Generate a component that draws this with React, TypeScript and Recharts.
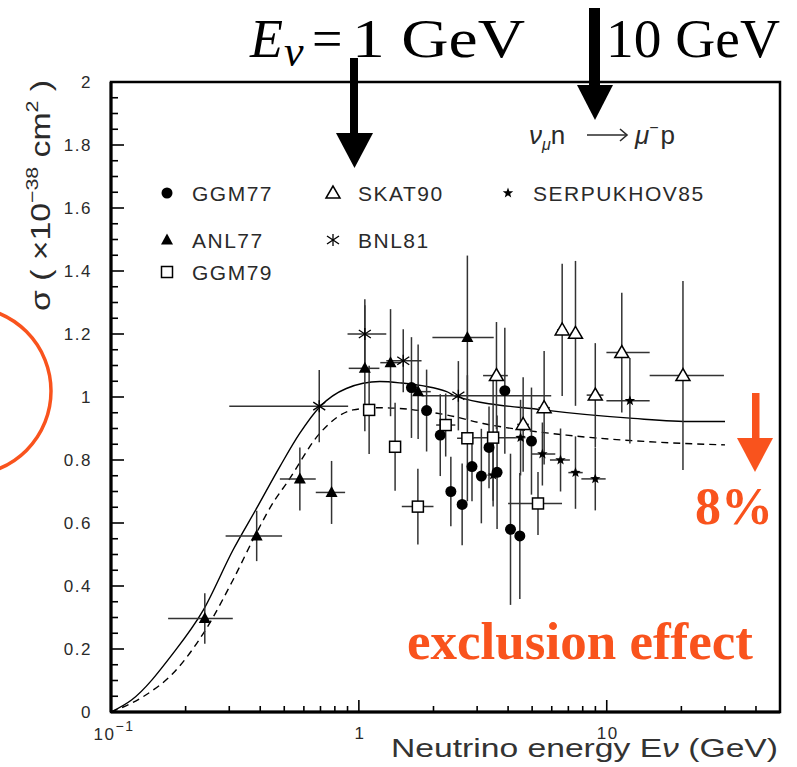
import React from 'react';
import { ComposedChart, Line, Scatter, XAxis, YAxis, ErrorBar, ReferenceArea } from 'recharts';

const ORANGE = '#f9531d';
const SANS = '"Liberation Sans", Arial, sans-serif';
const SERIF = '"Liberation Serif", "Times New Roman", serif';

// theory curves (E in GeV, sigma in 1e-38 cm2)
const solidE = [0.1, 0.121, 0.178, 0.236, 0.311, 0.387, 0.48, 0.578, 0.696, 0.89, 1.215, 1.46, 2.26, 2.48, 5.54, 12.8, 22.3, 30];
const solidS = [0, 0.038, 0.186, 0.324, 0.515, 0.647, 0.779, 0.885, 0.969, 1.027, 1.049, 1.045, 1.017, 1.001, 0.959, 0.932, 0.922, 0.922];
const dashedE = [0.1, 0.135, 0.178, 0.243, 0.311, 0.387, 0.458, 0.511, 0.696, 0.948, 1.215, 2.26, 3.17, 6.88, 14.9, 30];
const dashedS = [0, 0.049, 0.123, 0.266, 0.42, 0.57, 0.673, 0.726, 0.885, 0.959, 0.966, 0.943, 0.916, 0.879, 0.858, 0.848];

// ANL77
const anlE = [0.239, 0.387, 0.578, 0.776, 1.057, 1.342, 1.734, 2.74];
const anlS = [0.297, 0.559, 0.74, 0.697, 1.091, 1.109, 1.017, 1.189];
const anlLo = [0.17, 0.29, 0.48, 0.67, 0.91, 1.22, 1.6, 1.98];
const anlHi = [0.31, 0.49, 0.67, 0.88, 1.21, 1.48, 1.95, 3.5];
const anlErr = [0.08, 0.08, 0.1, 0.1, 0.2, 0.17, 0.15, 0.26];

// GGM77
const ggm77E = [1.63, 1.876, 2.13, 2.35, 2.61, 2.86, 3.12, 3.35, 3.61, 3.88, 4.09, 4.46, 4.97];
const ggm77S = [1.03, 0.957, 0.879, 0.7, 0.659, 0.779, 0.749, 0.84, 0.761, 1.02, 0.58, 0.559, 0.86];
const ggm77Err = [0.16, 0.13, 0.13, 0.11, 0.13, 0.11, 0.15, 0.13, 0.18, 0.2, 0.24, 0.2, 0.17];

// GGM79
const ggm79E = [1.1, 1.4, 1.73, 2.24, 2.74, 3.48, 5.28];
const ggm79S = [0.959, 0.842, 0.652, 0.911, 0.869, 0.871, 0.662];
const ggm79Lo = [1.05, 1.36, 1.49, 2.05, 2.49, 2.9, 4.0];
const ggm79Hi = [1.16, 1.45, 2.0, 2.45, 2.9, 4.3, 6.6];
const ggm79Err = [0.14, 0.14, 0.12, 0.1, 0.2, 0.2, 0.1];

// BNL81
const bnlE = [0.692, 1.057, 1.51, 2.52];
const bnlS = [0.971, 1.2, 1.115, 1.004];
const bnlLo = [0.3, 0.9, 1.29, 1.79];
const bnlHi = [0.905, 1.29, 1.79, 5.97];
const bnlErr = [0.115, 0.11, 0.1, 0.11];

// SKAT90
const skatE = [3.59, 4.6, 5.59, 6.61, 7.48, 8.99, 11.5, 20.3];
const skatS = [1.068, 0.913, 0.966, 1.213, 1.202, 1.006, 1.141, 1.068];
const skatLo = [3.17, 4.35, 5.3, 6.3, 7.15, 8.3, 9.97, 14.9];
const skatHi = [3.99, 4.85, 5.9, 6.9, 7.8, 9.7, 14.9, 29.7];
const skatErr = [0.17, 0.15, 0.18, 0.21, 0.23, 0.165, 0.19, 0.3];

// SERPUKHOV85
const serpE = [3.48, 4.49, 5.5, 6.51, 7.48, 8.99, 12.4];
const serpS = [0.752, 0.871, 0.819, 0.8, 0.76, 0.74, 0.988];
const serpLo = [3.3, 4.3, 4.97, 5.9, 7.0, 7.9, 9.97];
const serpHi = [3.65, 4.7, 6.2, 7.1, 8.0, 9.9, 14.9];
const serpErr = [0.1, 0.12, 0.1, 0.1, 0.115, 0.1, 0.136];

const xTicks = [0.1, 0.2, 0.3, 0.4, 0.5, 0.6, 0.7, 0.8, 0.9, 1, 2, 3, 4, 5, 6, 7, 8, 9, 10, 20, 30, 40];
const xMajor = [0.1, 1, 10];
const yMajor = [0, 0.2, 0.4, 0.6, 0.8, 1, 1.2, 1.4, 1.6, 1.8, 2];
const yTicks = Array.from({ length: 41 }, (_, i) => +(i * 0.05).toFixed(2));

const curve = (e: number[], s: number[]) => e.map((v, i) => ({ e: v, s: s[i] }));
const points = (e: number[], s: number[], lo: number[] | null, hi: number[] | null, err: number[]) =>
  e.map((v, i) => ({
    e: v,
    s: s[i],
    ex: lo && hi ? [v - lo[i], hi[i] - v] : [0, 0],
    ey: [err[i], err[i]],
  }));

type Kind = 'dot' | 'tri' | 'otri' | 'sq' | 'ast' | 'star';

const Marker = ({ cx, cy, kind }: { cx: number; cy: number; kind: Kind }) => {
  if (kind === 'dot') return <circle cx={cx} cy={cy} r={5.5} fill="#000" />;
  if (kind === 'tri')
    return <polygon points={`${cx},${cy - 6.5} ${cx - 6},${cy + 4.5} ${cx + 6},${cy + 4.5}`} fill="#000" />;
  if (kind === 'otri')
    return (
      <polygon
        points={`${cx},${cy - 7} ${cx - 7},${cy + 5} ${cx + 7},${cy + 5}`}
        fill="#fff"
        stroke="#000"
        strokeWidth={1.5}
      />
    );
  if (kind === 'sq')
    return <rect x={cx - 5.5} y={cy - 5.5} width={11} height={11} fill="#fff" stroke="#000" strokeWidth={1.5} />;
  if (kind === 'ast')
    return (
      <g stroke="#000" strokeWidth={1.3}>
        <line x1={cx} y1={cy - 6} x2={cx} y2={cy + 6} />
        <line x1={cx - 6} y1={cy - 4} x2={cx + 6} y2={cy + 4} />
        <line x1={cx - 6} y1={cy + 4} x2={cx + 6} y2={cy - 4} />
      </g>
    );
  const pts = Array.from({ length: 10 }, (_, i) => {
    const r = i % 2 === 0 ? 5.5 : 2.3;
    const a = -Math.PI / 2 + (i * Math.PI) / 5;
    return `${cx + r * Math.cos(a)},${cy + r * Math.sin(a)}`;
  }).join(' ');
  return <polygon points={pts} fill="#000" />;
};

const YTick = (props: any) => {
  const { x, y, payload } = props;
  const v = payload.value;
  const major = yMajor.some((m) => Math.abs(m - v) < 1e-6);
  return (
    <g>
      <line x1={x} x2={x + (major ? 13 : 7)} y1={y} y2={y} stroke="#000" strokeWidth={1.6} />
      {major && (
        <text x={x - 19} y={y + 6} textAnchor="end" fontFamily={SANS} fontSize={17} fill="#2a2a2a" letterSpacing={1.5}>
          {String(v)}
        </text>
      )}
    </g>
  );
};

const XTick = (props: any) => {
  const { x, y, payload } = props;
  const v = payload.value;
  const major = xMajor.includes(v);
  return (
    <g>
      <line x1={x} x2={x} y1={y} y2={y - (major ? 12 : 6)} stroke="#000" strokeWidth={1.6} />
      {major && v === 0.1 && (
        <text x={x + 3} y={y + 28} textAnchor="middle" fontFamily={SANS} fontSize={17} fill="#2a2a2a" letterSpacing={1.5}>
          10
          <tspan dy={-9} fontSize={14}>
            −1
          </tspan>
        </text>
      )}
      {major && v !== 0.1 && (
        <text x={x + 1} y={y + 27} textAnchor="middle" fontFamily={SANS} fontSize={17} fill="#2a2a2a" letterSpacing={1.5}>
          {String(v)}
        </text>
      )}
    </g>
  );
};

const series: { name: string; kind: Kind; data: any[] }[] = [
  { name: 'ANL77', kind: 'tri', data: points(anlE, anlS, anlLo, anlHi, anlErr) },
  { name: 'GGM77', kind: 'dot', data: points(ggm77E, ggm77S, null, null, ggm77Err) },
  { name: 'GGM79', kind: 'sq', data: points(ggm79E, ggm79S, ggm79Lo, ggm79Hi, ggm79Err) },
  { name: 'BNL81', kind: 'ast', data: points(bnlE, bnlS, bnlLo, bnlHi, bnlErr) },
  { name: 'SKAT90', kind: 'otri', data: points(skatE, skatS, skatLo, skatHi, skatErr) },
  { name: 'SERPUKHOV85', kind: 'star', data: points(serpE, serpS, serpLo, serpHi, serpErr) },
];

const legendItems: { name: string; kind: Kind; x: number; y: number }[] = [
  { name: 'GGM77', kind: 'dot', x: 167, y: 193 },
  { name: 'SKAT90', kind: 'otri', x: 333, y: 193 },
  { name: 'SERPUKHOV85', kind: 'star', x: 508, y: 193 },
  { name: 'ANL77', kind: 'tri', x: 167, y: 240 },
  { name: 'BNL81', kind: 'ast', x: 333, y: 240 },
  { name: 'GGM79', kind: 'sq', x: 167, y: 272 },
];

const Overlay = () => (
  <svg width={797} height={767} style={{ position: 'absolute', left: 0, top: 0, pointerEvents: 'none' }}>
    {/* legend */}
    {legendItems.map((it) => (
      <g key={it.name}>
        <Marker cx={it.x} cy={it.y} kind={it.kind} />
        <text x={it.x + 25} y={it.y + 8} fontFamily={SANS} fontSize={21} fill="#2a2a2a" letterSpacing={1.5}>
          {it.name}
        </text>
      </g>
    ))}
    {/* reaction */}
    <text x={529} y={144} fontFamily={SANS} fontSize={26} fill="#2a2a2a">
      <tspan fontStyle="italic">ν</tspan>
      <tspan fontSize={16} dy={6} fontStyle="italic">μ</tspan>
      <tspan dy={-6}>n</tspan>
    </text>
    <g stroke="#2a2a2a" strokeWidth={1.6} fill="none">
      <line x1={587} y1={135} x2={627} y2={135} />
      <polyline points="620,129 627,135 620,141" />
    </g>
    <text x={635} y={144} fontFamily={SANS} fontSize={26} fill="#2a2a2a">
      <tspan fontStyle="italic">μ</tspan>
      <tspan fontSize={16} dy={-11}>−</tspan>
      <tspan dy={11} dx={2}>p</tspan>
    </text>
    {/* axis titles */}
    <text
      transform="translate(50,311) rotate(-90)"
      fontFamily={SANS}
      fontSize={27}
      fill="#2a2a2a"
      textLength={231}
      lengthAdjust="spacingAndGlyphs"
    >
      σ ( ×10
      <tspan dy={-12} fontSize={17}>
        −38
      </tspan>
      <tspan dy={12}> cm</tspan>
      <tspan dy={-12} fontSize={17}>
        2
      </tspan>
      <tspan dy={12}> )</tspan>
    </text>
    <text
      x={391}
      y={757}
      fontFamily={SANS}
      fontSize={26}
      fill="#333"
      textLength={387}
      lengthAdjust="spacingAndGlyphs"
    >
      Neutrino energy E<tspan fontStyle="italic">ν</tspan> (GeV)
    </text>
    {/* top energy marks */}
    <text x={250} y={57} fontFamily={SERIF} fontSize={54} fontStyle="italic">
      E
    </text>
    <text x={284} y={66} fontFamily={SERIF} fontSize={44} fontStyle="italic">
      ν
    </text>
    <text x={312} y={57} fontFamily={SERIF} fontSize={54}>
      =
    </text>
    <text x={352} y={57} fontFamily={SERIF} fontSize={54} textLength={173} lengthAdjust="spacingAndGlyphs">
      1 GeV
    </text>
    <text x={606} y={57} fontFamily={SERIF} fontSize={54} textLength={174} lengthAdjust="spacingAndGlyphs">
      10 GeV
    </text>
    <rect x={350} y={58} width={8} height={76} fill="#000" />
    <polygon points="336,133 373,133 354.5,168" fill="#000" />
    <rect x={589} y={8} width={11} height={78} fill="#000" />
    <polygon points="577,85 613,85 595,120" fill="#000" />
    {/* orange annotations */}
    <circle cx={-33} cy={391} r={84} fill="none" stroke={ORANGE} strokeWidth={3.5} />
    <rect x={752} y={393} width={7.5} height={46} fill={ORANGE} />
    <polygon points="737,438 773,438 755,472" fill={ORANGE} />
    <text x={695} y={524} fontFamily={SERIF} fontWeight="bold" fontSize={52} fill={ORANGE}>
      8%
    </text>
    <text
      x={407}
      y={659}
      fontFamily={SERIF}
      fontWeight="bold"
      fontSize={53}
      fill={ORANGE}
      textLength={346}
      lengthAdjust="spacingAndGlyphs"
    >
      exclusion effect
    </text>
  </svg>
);

export default function App() {
  return (
    <div style={{ position: 'absolute', left: 0, top: 0, width: 797, height: 767, background: '#fff' }}>
      <ComposedChart width={797} height={767} margin={{ top: 82, right: 17, left: 51, bottom: 25 }}>
        <XAxis
          dataKey="e"
          type="number"
          scale="log"
          domain={[0.1, 50]}
          allowDataOverflow
          ticks={xTicks}
          interval={0}
          height={30}
          tickSize={0}
          tickMargin={0}
          tickLine={false}
          tick={<XTick />}
          axisLine={{ stroke: '#000', strokeWidth: 3 }}
        />
        <YAxis
          dataKey="s"
          type="number"
          domain={[0, 2]}
          allowDataOverflow
          ticks={yTicks}
          interval={0}
          width={60}
          tickSize={0}
          tickMargin={0}
          tickLine={false}
          tick={<YTick />}
          axisLine={{ stroke: '#000', strokeWidth: 3 }}
        />
        <ReferenceArea
          x1={0.1}
          x2={50}
          y1={0}
          y2={2}
          ifOverflow="visible"
          fill="none"
          fillOpacity={0}
          stroke="#000"
          strokeOpacity={1}
          strokeWidth={2.5}
        />
        <Line
          data={curve(solidE, solidS)}
          dataKey="s"
          type="monotone"
          dot={false}
          stroke="#000"
          strokeWidth={1.4}
          isAnimationActive={false}
        />
        <Line
          data={curve(dashedE, dashedS)}
          dataKey="s"
          type="monotone"
          dot={false}
          stroke="#000"
          strokeWidth={1.4}
          strokeDasharray="7 5"
          isAnimationActive={false}
        />
        {series.map((sr) => (
          <Scatter
            key={sr.name}
            name={sr.name}
            data={sr.data}
            dataKey="s"
            isAnimationActive={false}
            shape={(p: any) => <Marker cx={p.cx} cy={p.cy} kind={sr.kind} />}
          >
            <ErrorBar dataKey="ex" direction="x" width={0} stroke="#333" strokeWidth={1.5} />
            <ErrorBar dataKey="ey" direction="y" width={0} stroke="#333" strokeWidth={1.5} />
          </Scatter>
        ))}
      </ComposedChart>
      <Overlay />
    </div>
  );
}
